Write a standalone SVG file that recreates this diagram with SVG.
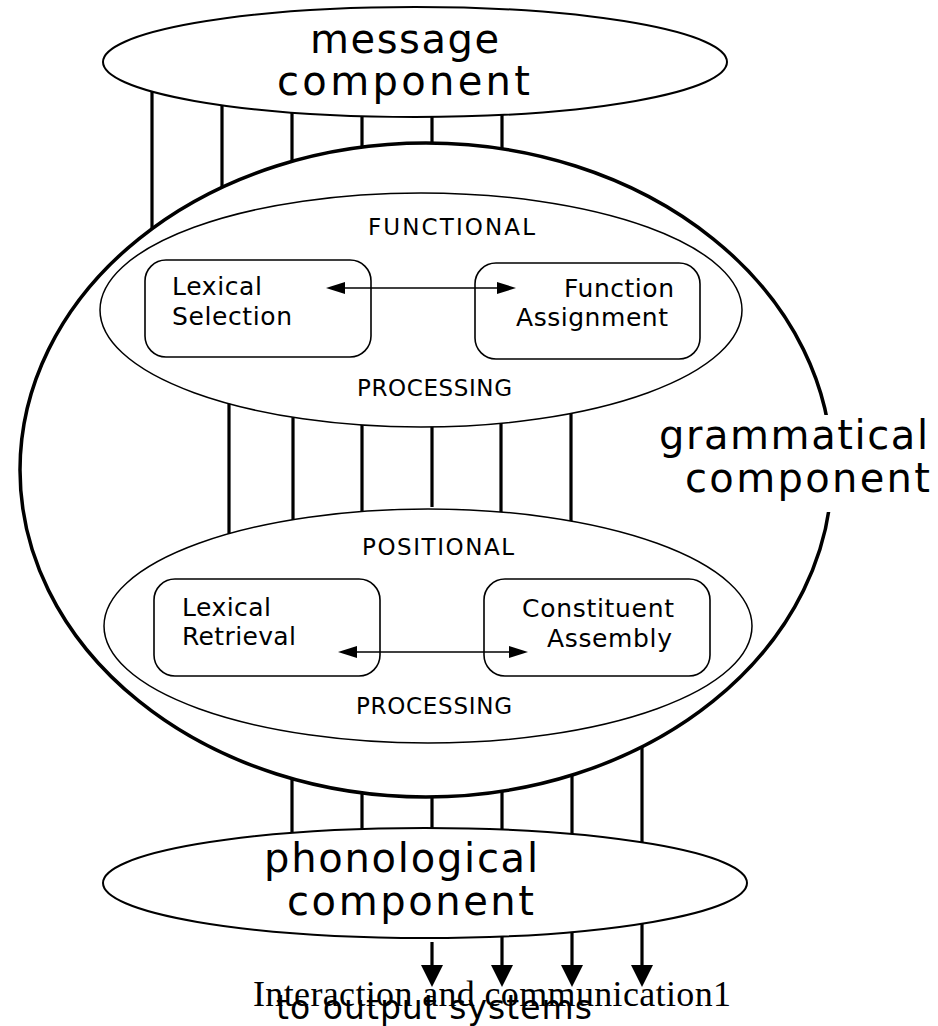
<svg xmlns="http://www.w3.org/2000/svg" width="938" height="1026" viewBox="0 0 938 1026">
  <defs>
    <style>
      .outer{fill:none;stroke:#000;stroke-width:2}
      .big{fill:none;stroke:#000;stroke-width:3.5}
      .stage{fill:none;stroke:#000;stroke-width:1.5}
      .box{fill:none;stroke:#000;stroke-width:1.6}
      .link{stroke:#000;stroke-width:3.2;fill:none}
      .pair{stroke:#000;stroke-width:1.5;fill:none}
      .out{stroke:#000;stroke-width:3.2;fill:none}
      text{font-family:"DejaVu Sans",Verdana,sans-serif;fill:#000}
      .lg{font-size:40px}
      .md{font-size:25px}
      .sm{font-size:23px}
      .cap{font-family:"Liberation Serif","Times New Roman",serif;font-size:36px}
      .sub{font-size:33px}
    </style>
    <marker id="tip" markerUnits="userSpaceOnUse" markerWidth="20" markerHeight="14" viewBox="0 -7 20 14" refX="0" refY="0" orient="auto-start-reverse">
      <path d="M0,-6 L19,0 L0,6 z" fill="#000"/>
    </marker>
    <marker id="down" markerUnits="userSpaceOnUse" markerWidth="24" markerHeight="24" viewBox="0 -12 24 24" refX="0" refY="0" orient="auto">
      <path d="M0,-11 L22,0 L0,11 z" fill="#000"/>
    </marker>
  </defs>

  <rect x="0" y="0" width="938" height="1026" fill="#fff"/>

  <!-- grammatical component: large enclosing ellipse, label sits on its right edge -->
  <g id="grammatical">
    <ellipse class="big" cx="426" cy="470" rx="406" ry="327"/>
    <rect x="652" y="415" width="284" height="97" fill="#fff"/>
    <text class="lg" x="659" y="449" textLength="269" lengthAdjust="spacing">grammatical</text>
    <text class="lg" x="685" y="492" textLength="245" lengthAdjust="spacing">component</text>
  </g>

  <g id="message">
    <ellipse class="outer" cx="415" cy="62" rx="312" ry="55"/>
    <text class="lg" x="310" y="53" textLength="189" lengthAdjust="spacing">message</text>
    <text class="lg" x="277" y="95" textLength="253" lengthAdjust="spacing">component</text>
  </g>

  <g id="functional">
    <ellipse class="stage" cx="421" cy="310" rx="321" ry="117"/>
    <text class="sm" x="368" y="235" textLength="167" lengthAdjust="spacing">FUNCTIONAL</text>
    <text class="sm" x="357" y="396" textLength="155" lengthAdjust="spacing">PROCESSING</text>
  </g>

  <g id="lexical-selection">
    <rect class="box" x="145" y="260" width="226" height="97" rx="21"/>
    <text class="md" x="172" y="295" textLength="90" lengthAdjust="spacing">Lexical</text>
    <text class="md" x="172" y="325" textLength="120" lengthAdjust="spacing">Selection</text>
  </g>

  <g id="function-assignment">
    <rect class="box" x="475" y="263" width="225" height="96" rx="21"/>
    <text class="md" x="564" y="297" textLength="110" lengthAdjust="spacing">Function</text>
    <text class="md" x="516" y="326" textLength="152" lengthAdjust="spacing">Assignment</text>
  </g>

  <g id="positional">
    <ellipse class="stage" cx="428" cy="626" rx="324" ry="117"/>
    <text class="sm" x="362" y="555" textLength="152" lengthAdjust="spacing">POSITIONAL</text>
    <text class="sm" x="356" y="714" textLength="156" lengthAdjust="spacing">PROCESSING</text>
  </g>

  <g id="lexical-retrieval">
    <rect class="box" x="154" y="579" width="226" height="97" rx="21"/>
    <text class="md" x="182" y="616" textLength="89" lengthAdjust="spacing">Lexical</text>
    <text class="md" x="182" y="645" textLength="114" lengthAdjust="spacing">Retrieval</text>
  </g>

  <g id="constituent-assembly">
    <rect class="box" x="484" y="579" width="226" height="97" rx="21"/>
    <text class="md" x="522" y="617" textLength="152" lengthAdjust="spacing">Constituent</text>
    <text class="md" x="547" y="647" textLength="125" lengthAdjust="spacing">Assembly</text>
  </g>

  <g id="phonological">
    <ellipse class="outer" cx="425" cy="883" rx="322" ry="55"/>
    <text class="lg" x="264" y="872" textLength="274" lengthAdjust="spacing">phonological</text>
    <text class="lg" x="287" y="915" textLength="247" lengthAdjust="spacing">component</text>
  </g>

  <g id="output-label">
    <text class="cap" x="253" y="1006" textLength="478" lengthAdjust="spacing">Interaction and communication1</text>
    <text class="sub" x="276" y="1019" textLength="316" lengthAdjust="spacing">to output systems</text>
  </g>

  <g id="connectors">
    <!-- message -> grammatical -->
    <line class="link" x1="152" y1="91.6" x2="152" y2="228.7"/>
    <line class="link" x1="222" y1="105.2" x2="222" y2="187.3"/>
    <line class="link" x1="292" y1="112.5" x2="292" y2="161.3"/>
    <line class="link" x1="362" y1="116.2" x2="362" y2="147.1"/>
    <line class="link" x1="432" y1="116.9" x2="432" y2="143"/>
    <line class="link" x1="502" y1="114.8" x2="502" y2="148.8"/>
    <!-- functional -> positional -->
    <line class="link" x1="229" y1="403.8" x2="229" y2="533.7"/>
    <line class="link" x1="293" y1="417.3" x2="293" y2="519.6"/>
    <line class="link" x1="362" y1="425" x2="362" y2="511.5"/>
    <line class="link" x1="432" y1="426.9" x2="432" y2="507"/>
    <line class="link" x1="501" y1="423.3" x2="501" y2="512"/>
    <line class="link" x1="571" y1="413.4" x2="571" y2="521"/>
    <!-- grammatical -> phonological -->
    <line class="link" x1="292" y1="778.7" x2="292" y2="832.9"/>
    <line class="link" x1="362" y1="792.9" x2="362" y2="829.1"/>
    <line class="link" x1="432" y1="797" x2="432" y2="828"/>
    <line class="link" x1="502" y1="791.2" x2="502" y2="829.6"/>
    <line class="link" x1="572" y1="775.1" x2="572" y2="834.1"/>
    <line class="link" x1="642" y1="746.9" x2="642" y2="842.4"/>
    <!-- two-way links inside the stages -->
    <line class="pair" x1="345" y1="288" x2="497" y2="288" marker-start="url(#tip)" marker-end="url(#tip)"/>
    <line class="pair" x1="357" y1="652" x2="509" y2="652" marker-start="url(#tip)" marker-end="url(#tip)"/>
    <!-- phonological -> output systems -->
    <line class="out" x1="432" y1="942" x2="432" y2="965" marker-end="url(#down)"/>
    <line class="out" x1="502" y1="936.4" x2="502" y2="965" marker-end="url(#down)"/>
    <line class="out" x1="572" y1="931.9" x2="572" y2="965" marker-end="url(#down)"/>
    <line class="out" x1="642" y1="923.6" x2="642" y2="965" marker-end="url(#down)"/>
  </g>
</svg>
